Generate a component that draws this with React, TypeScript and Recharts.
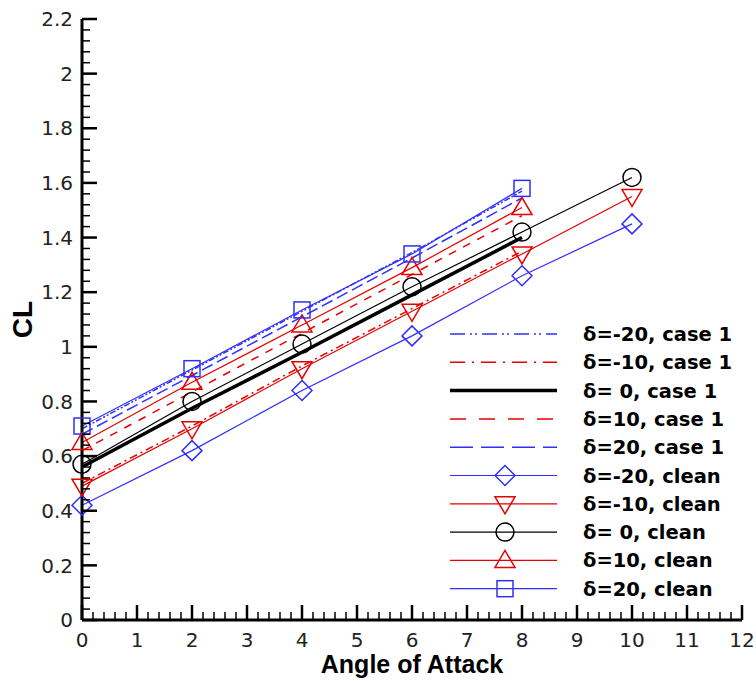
import { LineChart, Line, XAxis, YAxis, Legend, Label } from 'recharts';

// angle of attack where the runs were taken
const aoa = [0, 2, 4, 6, 8, 10];

// clean wing (with symbols)
const cleanM20 = [0.42, 0.62, 0.84, 1.04, 1.26, 1.45];
const cleanM10 = [0.49, 0.70, 0.92, 1.13, 1.34, 1.55];
const clean0 = [0.57, 0.80, 1.01, 1.22, 1.42, 1.62];
const cleanP10 = [0.65, 0.87, 1.08, 1.29, 1.51];
const cleanP20 = [0.71, 0.92, 1.135, 1.34, 1.58];

// case 1 (lines only, up to 8 deg)
const case1M20 = [0.70, 0.915, 1.13, 1.345, 1.57];
const case1M10 = [0.50, 0.71, 0.93, 1.14, 1.35];
const case10 = [0.56, 0.775, 0.98, 1.19, 1.40];
const case1P10 = [0.62, 0.835, 1.05, 1.265, 1.48];
const case1P20 = [0.68, 0.895, 1.11, 1.325, 1.545];

const xTickLabels = ['0', '1', '2', '3', '4', '5', '6', '7', '8', '9', '10', '11', '12'];
const yTickLabels = ['0', '0.2', '0.4', '0.6', '0.8', '1', '1.2', '1.4', '1.6', '1.8', '2', '2.2'];

const data = aoa.map((a, i) => ({
  aoa: a,
  cM20: cleanM20[i],
  cM10: cleanM10[i],
  c0: clean0[i],
  cP10: cleanP10[i],
  cP20: cleanP20[i],
  k1M20: case1M20[i],
  k1M10: case1M10[i],
  k10: case10[i],
  k1P10: case1P10[i],
  k1P20: case1P20[i],
}));

// minor ticks: 4 between labelled x ticks, 4 between labelled y ticks
const xTicks = Array.from({ length: (xTickLabels.length - 1) * 5 + 1 }, (_, i) => i / 5);
const yTicks = Array.from({ length: (yTickLabels.length - 1) * 5 + 1 }, (_, i) => i / 25);

const BLUE = '#2f2fff';
const RED = '#e60000';
const BLACK = '#000';

type Shape = 'diamond' | 'down' | 'circle' | 'up' | 'square' | null;

const caseSeries = [
  { key: 'k1M20', name: 'δ=-20, case 1', color: BLUE, width: 1.5, dash: '6 2 2 2 2 2', legendDash: '15 5 2 3 2 5' },
  { key: 'k1M10', name: 'δ=-10, case 1', color: RED, width: 1.5, dash: '8 4 2 4', legendDash: '15 7 2 7' },
  { key: 'k10', name: 'δ= 0, case 1', color: BLACK, width: 3.5, dash: undefined, legendDash: undefined },
  { key: 'k1P10', name: 'δ=10, case 1', color: RED, width: 1.5, dash: '8 8', legendDash: '16 13' },
  { key: 'k1P20', name: 'δ=20, case 1', color: BLUE, width: 1.5, dash: '12 5', legendDash: '23 8' },
];

const cleanSeries: { key: string; name: string; color: string; shape: Shape }[] = [
  { key: 'cM20', name: 'δ=-20, clean', color: BLUE, shape: 'diamond' },
  { key: 'cM10', name: 'δ=-10, clean', color: RED, shape: 'down' },
  { key: 'c0', name: 'δ= 0, clean', color: BLACK, shape: 'circle' },
  { key: 'cP10', name: 'δ=10, clean', color: RED, shape: 'up' },
  { key: 'cP20', name: 'δ=20, clean', color: BLUE, shape: 'square' },
];

const Marker = ({ cx, cy, shape, color }: { cx: number; cy: number; shape: Shape; color: string }) => {
  const p = { fill: 'none', stroke: color, strokeWidth: 1.5 };
  switch (shape) {
    case 'diamond':
      return <polygon {...p} points={`${cx},${cy - 10} ${cx + 10},${cy} ${cx},${cy + 10} ${cx - 10},${cy}`} />;
    case 'down':
      return <polygon {...p} points={`${cx - 10},${cy - 7} ${cx + 10},${cy - 7} ${cx},${cy + 10}`} />;
    case 'up':
      return <polygon {...p} points={`${cx - 10},${cy + 7} ${cx + 10},${cy + 7} ${cx},${cy - 10}`} />;
    case 'circle':
      return <circle {...p} cx={cx} cy={cy} r={9} />;
    case 'square':
      return <rect {...p} x={cx - 8} y={cy - 8} width={16} height={16} />;
    default:
      return null;
  }
};

const fmt = (v: number) => String(Number(v.toFixed(1)));

const XTick = (props: any) => {
  const { x, y, payload } = props;
  const major = Math.round(payload.value * 5) % 5 === 0;
  return (
    <g>
      <line x1={x} y1={y} x2={x} y2={y - (major ? 15 : 8)} stroke="#000" strokeWidth={major ? 2.5 : 1.5} />
      {major && (
        <text x={x} y={y + 27} textAnchor="middle" fontSize={20} fill="#222" fontFamily="DejaVu Sans">
          {fmt(payload.value)}
        </text>
      )}
    </g>
  );
};

const YTick = (props: any) => {
  const { x, y, payload } = props;
  const major = Math.round(payload.value * 25) % 5 === 0;
  return (
    <g>
      <line x1={x} y1={y} x2={x + (major ? 15 : 8)} y2={y} stroke="#000" strokeWidth={major ? 2.5 : 1.5} />
      {major && (
        <text x={x - 9} y={y} dy="0.36em" textAnchor="end" fontSize={20} fill="#222" fontFamily="DejaVu Sans">
          {fmt(payload.value)}
        </text>
      )}
    </g>
  );
};

const LegendBox = () => {
  const rows = [...caseSeries.map((s) => ({ ...s, shape: null as Shape })), ...cleanSeries.map((s) => ({ ...s, width: 1.2, legendDash: undefined }))];
  return (
    <svg width={300} height={290}>
      {rows.map((r, i) => {
        const cy = 19 + i * 28.3;
        return (
          <g key={r.key}>
            <line x1={10} y1={cy} x2={117} y2={cy} stroke={r.color} strokeWidth={r.width} strokeDasharray={r.legendDash} />
            {r.shape && <Marker cx={65} cy={cy} shape={r.shape} color={r.color} />}
            <text x={143} y={cy} dy="0.36em" fontSize={19.5} fontWeight="bold" fontFamily="DejaVu Sans" fill="#000">
              {r.name}
            </text>
          </g>
        );
      })}
    </svg>
  );
};

export default function App() {
  return (
    <div style={{ position: 'absolute', left: 0, top: 0, background: '#fff', fontFamily: 'DejaVu Sans' }}>
      <LineChart width={756} height={681} data={data} margin={{ top: 19, right: 14, left: 0, bottom: 0 }}>
        <XAxis
          type="number"
          dataKey="aoa"
          domain={[0, 12]}
          ticks={xTicks}
          interval={0}
          tick={<XTick />}
          tickLine={false}
          tickSize={0}
          tickMargin={0}
          height={61}
          axisLine={{ stroke: '#000', strokeWidth: 3 }}
        >
          <Label
            content={({ viewBox }: any) => (
              <text
                x={viewBox.x + viewBox.width / 2}
                y={viewBox.y + 53}
                textAnchor="middle"
                fontSize={25}
                fontWeight="bold"
                fontFamily="Liberation Sans"
              >
                Angle of Attack
              </text>
            )}
          />
        </XAxis>
        <YAxis
          type="number"
          domain={[0, 2.2]}
          ticks={yTicks}
          interval={0}
          tick={<YTick />}
          tickLine={false}
          tickSize={0}
          tickMargin={0}
          width={82}
          axisLine={{ stroke: '#000', strokeWidth: 3 }}
        >
          <Label
            content={({ viewBox }: any) => {
              const cx = 22;
              const cy = viewBox.y + viewBox.height / 2;
              return (
                <text
                  x={cx}
                  y={cy}
                  dy="0.36em"
                  transform={`rotate(-90 ${cx} ${cy})`}
                  textAnchor="middle"
                  fontSize={28}
                  fontWeight="bold"
                  fontFamily="Liberation Sans"
                >
                  CL
                </text>
              );
            }}
          />
        </YAxis>
        <Legend
          layout="horizontal"
          verticalAlign="middle"
          align="center"
          content={<LegendBox />}
          wrapperStyle={{ left: 440, top: 315, width: 300 }}
        />
        {cleanSeries.map((s) => (
          <Line
            key={s.key}
            dataKey={s.key}
            name={s.name}
            stroke={s.color}
            strokeWidth={1.2}
            isAnimationActive={false}
            dot={(p: any) =>
              p.cx == null || p.cy == null || p.value == null ? (
                <g key={`${s.key}-${p.index}`} />
              ) : (
                <g key={`${s.key}-${p.index}`}>
                  <Marker cx={p.cx} cy={p.cy} shape={s.shape} color={s.color} />
                </g>
              )
            }
            activeDot={false}
          />
        ))}
        {caseSeries.map((s) => (
          <Line
            key={s.key}
            dataKey={s.key}
            name={s.name}
            stroke={s.color}
            strokeWidth={s.width}
            strokeDasharray={s.dash}
            dot={false}
            activeDot={false}
            isAnimationActive={false}
          />
        ))}
      </LineChart>
    </div>
  );
}
